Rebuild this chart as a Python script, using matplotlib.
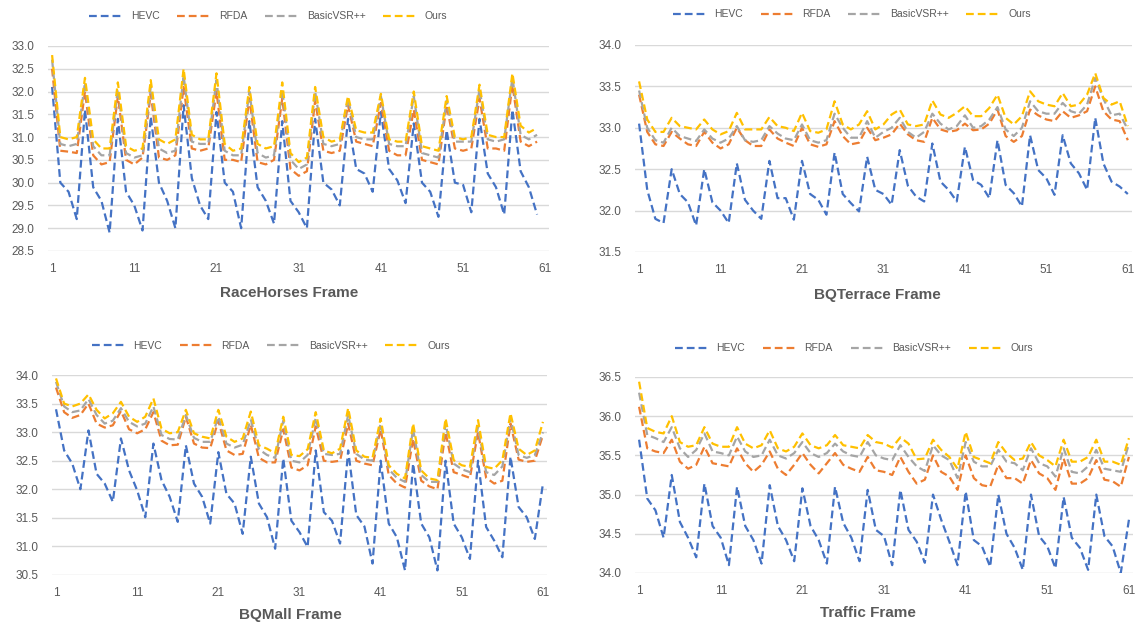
import matplotlib.pyplot as plt

plt.rcParams['font.family'] = ['Liberation Sans', 'DejaVu Sans']

series = ["HEVC", "RFDA", "BasicVSR++", "Ours"]
colors = ["#4472C4", "#ED7D31", "#A5A5A5", "#FFC000"]
xticks = [1, 11, 21, 31, 41, 51, 61]

# RaceHorses (60 frames)
rh_hevc = [32.1, 30.0, 29.8, 29.2, 31.6, 29.9, 29.6, 28.9, 31.4, 29.8, 29.5, 28.95,
           31.45, 30.0, 29.6, 29.0, 31.7, 30.1, 29.5, 29.2, 31.55, 30.0, 29.8, 29.0,
           31.35, 29.9, 29.6, 29.1, 31.35, 29.6, 29.35, 29.0, 31.4, 30.0, 29.85, 29.5,
           31.4, 30.3, 30.2, 29.8, 31.55, 30.3, 30.05, 29.55, 31.3, 30.0, 29.8, 29.25,
           31.15, 30.0, 29.95, 29.35, 31.4, 30.2, 29.9, 29.3, 31.6, 30.25, 29.9, 29.3]
rh_rfda = [32.5, 30.7, 30.68, 30.65, 32.0, 30.6, 30.4, 30.45, 31.9, 30.5, 30.4, 30.55,
           31.95, 30.55, 30.5, 30.6, 32.1, 30.75, 30.7, 30.75, 32.0, 30.5, 30.5, 30.45,
           31.85, 30.45, 30.4, 30.5, 31.85, 30.3, 30.15, 30.25, 31.8, 30.7, 30.65, 30.7,
           31.7, 30.9, 30.85, 30.8, 31.75, 30.7, 30.6, 30.6, 31.6, 30.5, 30.45, 30.4,
           31.7, 30.75, 30.7, 30.75, 31.85, 30.75, 30.75, 30.7, 32.15, 30.9, 30.8, 30.9]
rh_basic = [32.7, 30.85, 30.8, 30.85, 32.2, 30.8, 30.6, 30.6, 32.05, 30.65, 30.55, 30.6,
            32.1, 30.75, 30.65, 30.7, 32.35, 30.9, 30.85, 30.85, 32.25, 30.7, 30.6, 30.6,
            32.0, 30.65, 30.55, 30.6, 32.05, 30.5, 30.3, 30.4, 32.0, 30.85, 30.8, 30.85,
            31.85, 31.0, 30.95, 30.95, 31.9, 30.85, 30.8, 30.8, 31.9, 30.65, 30.6, 30.55,
            31.8, 30.9, 30.9, 30.9, 32.05, 30.95, 30.9, 30.95, 32.3, 31.05, 30.95, 31.05]
rh_ours = [32.8, 31.0, 30.95, 31.0, 32.3, 30.95, 30.75, 30.75, 32.2, 30.8, 30.7, 30.75,
           32.25, 30.95, 30.85, 30.95, 32.5, 31.05, 30.95, 30.95, 32.4, 30.85, 30.7, 30.75,
           32.1, 30.85, 30.75, 30.8, 32.2, 30.65, 30.45, 30.55, 32.1, 31.0, 30.9, 30.95,
           31.9, 31.15, 31.1, 31.1, 31.95, 30.95, 30.9, 30.9, 32.0, 30.8, 30.75, 30.7,
           31.9, 31.0, 30.95, 31.0, 32.15, 31.05, 31.0, 31.0, 32.4, 31.25, 31.1, 31.2]

# BQTerrace
bt_hevc = [33.05, 32.25, 31.9, 31.85, 32.5, 32.2, 32.1, 31.82, 32.5, 32.1, 32.0, 31.85,
           32.57, 32.13, 32.0, 31.9, 32.6, 32.15, 32.15, 31.89, 32.6, 32.2, 32.13, 31.95,
           32.7, 32.2, 32.09, 31.99, 32.65, 32.25, 32.2, 32.07, 32.73, 32.3, 32.17, 32.11,
           32.81, 32.35, 32.25, 32.11, 32.77, 32.37, 32.31, 32.15, 32.85, 32.31, 32.21, 32.05,
           32.91, 32.49, 32.39, 32.19, 32.91, 32.57, 32.45, 32.25, 33.12, 32.57, 32.35, 32.29,
           32.2]
bt_rfda = [33.4, 32.95, 32.8, 32.78, 32.95, 32.87, 32.8, 32.78, 32.95, 32.82, 32.75, 32.8,
           33.0, 32.85, 32.78, 32.78, 32.98, 32.87, 32.82, 32.78, 33.0, 32.8, 32.77, 32.8,
           33.08, 32.9, 32.8, 32.82, 33.0, 32.85, 32.88, 32.92, 33.05, 32.92, 32.85, 32.83,
           33.12, 32.98, 32.95, 32.97, 33.05, 32.97, 32.98, 33.05, 33.22, 32.9, 32.83, 32.9,
           33.22, 33.15, 33.1, 33.08, 33.2, 33.12, 33.15, 33.2, 33.5, 33.2, 33.1, 33.08,
           32.85]
bt_basic = [33.45, 33.0, 32.85, 32.82, 33.0, 32.9, 32.87, 32.84, 32.98, 32.87, 32.82, 32.87,
            33.02, 32.85, 32.83, 32.85, 33.02, 32.93, 32.87, 32.85, 33.04, 32.85, 32.82, 32.85,
            33.17, 33.0, 32.88, 32.88, 33.08, 32.88, 32.95, 33.0, 33.12, 32.95, 32.88, 32.95,
            33.17, 33.05, 32.98, 33.02, 33.15, 33.0, 33.02, 33.1, 33.25, 32.98, 32.9, 33.0,
            33.32, 33.2, 33.17, 33.17, 33.3, 33.2, 33.17, 33.28, 33.6, 33.35, 33.15, 33.17,
            32.98]
bt_ours = [33.56, 33.1, 32.95, 32.95, 33.12, 33.02, 33.0, 32.98, 33.1, 32.98, 32.92, 32.96,
           33.18, 32.98, 32.98, 32.98, 33.13, 33.02, 33.0, 32.96, 33.18, 32.96, 32.94, 32.98,
           33.32, 33.04, 32.98, 33.04, 33.2, 32.98, 33.04, 33.16, 33.22, 33.04, 33.02, 33.04,
           33.33, 33.16, 33.12, 33.18, 33.26, 33.14, 33.14, 33.24, 33.4, 33.12, 33.04, 33.14,
           33.44, 33.32, 33.28, 33.26, 33.42, 33.26, 33.28, 33.4, 33.66, 33.36, 33.28, 33.32,
           33.02]

# BQMall
bm_hevc = [33.4, 32.68, 32.45, 32.0, 33.03, 32.27, 32.1, 31.78, 32.89, 32.33, 31.98, 31.51,
           32.8, 32.16, 31.87, 31.43, 32.77, 32.1, 31.87, 31.4, 32.65, 31.92, 31.75, 31.22,
           32.57, 31.75, 31.51, 30.96, 32.54, 31.45, 31.25, 30.99, 32.68, 31.6, 31.45, 31.05,
           32.68, 31.55, 31.35, 30.7, 32.5, 31.4, 31.16, 30.58, 32.45, 31.4, 31.16, 30.58,
           32.5, 31.4, 31.16, 30.78, 32.5, 31.34, 31.1, 30.81, 32.57, 31.69, 31.51, 31.13,
           32.1]
bm_rfda = [33.78, 33.35, 33.25, 33.3, 33.5, 33.15, 33.08, 33.12, 33.37, 33.05, 32.98, 33.05,
           33.35, 32.85, 32.77, 32.78, 33.27, 32.8, 32.73, 32.72, 33.2, 32.68, 32.6, 32.62,
           33.13, 32.55, 32.47, 32.47, 33.05, 32.38, 32.33, 32.42, 33.1, 32.5, 32.48, 32.5,
           33.15, 32.5, 32.45, 32.42, 33.05, 32.25, 32.1, 32.03, 32.88, 32.15, 32.05, 32.0,
           33.0, 32.3, 32.25, 32.2, 33.0, 32.2, 32.1, 32.15, 33.15, 32.52, 32.48, 32.5,
           32.95]
bm_basic = [33.88, 33.45, 33.35, 33.38, 33.58, 33.3, 33.15, 33.2, 33.42, 33.18, 33.1, 33.15,
            33.45, 32.95, 32.88, 32.87, 33.3, 32.9, 32.83, 32.83, 33.27, 32.8, 32.73, 32.78,
            33.22, 32.7, 32.6, 32.55, 33.2, 32.5, 32.47, 32.6, 33.25, 32.62, 32.6, 32.62,
            33.3, 32.62, 32.52, 32.5, 33.15, 32.35, 32.2, 32.13, 33.05, 32.25, 32.13, 32.13,
            33.15, 32.45, 32.35, 32.3, 33.1, 32.3, 32.25, 32.4, 33.25, 32.6, 32.55, 32.6,
            33.0]
bm_ours = [33.94, 33.5, 33.45, 33.5, 33.66, 33.39, 33.24, 33.33, 33.53, 33.27, 33.18, 33.27,
           33.59, 33.06, 32.98, 33.0, 33.39, 32.98, 32.92, 32.89, 33.39, 32.92, 32.83, 32.89,
           33.36, 32.77, 32.71, 32.63, 33.27, 32.6, 32.58, 32.7, 33.35, 32.68, 32.63, 32.71,
           33.42, 32.68, 32.57, 32.55, 33.24, 32.42, 32.27, 32.19, 33.15, 32.33, 32.19, 32.16,
           33.24, 32.51, 32.42, 32.39, 33.21, 32.39, 32.36, 32.51, 33.33, 32.71, 32.6, 32.68,
           33.18]

# Traffic
tr_hevc = [35.7, 34.95, 34.8, 34.45, 35.25, 34.65, 34.45, 34.2, 35.14, 34.6, 34.45, 34.1,
           35.1, 34.6, 34.42, 34.12, 35.12, 34.6, 34.42, 34.15, 35.08, 34.6, 34.42, 34.12,
           35.1, 34.64, 34.45, 34.15, 35.06, 34.55, 34.47, 34.1, 35.06, 34.55, 34.4, 34.13,
           35.0, 34.68, 34.4, 34.1, 35.04, 34.42, 34.34, 34.08, 35.0, 34.5, 34.32, 34.04,
           35.0, 34.47, 34.34, 34.06, 34.97, 34.45, 34.32, 34.04, 35.0, 34.47, 34.34, 34.0,
           34.68]
tr_rfda = [36.12, 35.59, 35.55, 35.53, 35.7, 35.42, 35.33, 35.38, 35.61, 35.4, 35.38, 35.36,
           35.59, 35.4, 35.29, 35.38, 35.55, 35.33, 35.25, 35.38, 35.53, 35.38, 35.27, 35.4,
           35.53, 35.38, 35.33, 35.29, 35.48, 35.31, 35.29, 35.25, 35.48, 35.29, 35.14, 35.19,
           35.5, 35.29, 35.23, 35.06, 35.5, 35.21, 35.12, 35.1, 35.38, 35.21, 35.21, 35.14,
           35.44, 35.27, 35.21, 35.06, 35.46, 35.14, 35.14, 35.21, 35.44, 35.19, 35.17, 35.1,
           35.48]
tr_basic = [36.3, 35.76, 35.72, 35.67, 35.86, 35.59, 35.48, 35.57, 35.78, 35.55, 35.53, 35.5,
            35.74, 35.55, 35.48, 35.5, 35.7, 35.5, 35.46, 35.53, 35.67, 35.53, 35.48, 35.53,
            35.65, 35.55, 35.5, 35.48, 35.67, 35.5, 35.46, 35.44, 35.63, 35.48, 35.36, 35.3,
            35.63, 35.5, 35.44, 35.21, 35.67, 35.42, 35.36, 35.36, 35.57, 35.42, 35.4, 35.31,
            35.59, 35.4, 35.36, 35.23, 35.59, 35.29, 35.27, 35.36, 35.57, 35.33, 35.31, 35.29,
            35.65]
tr_ours = [36.44, 35.85, 35.8, 35.78, 36.0, 35.67, 35.61, 35.63, 35.86, 35.65, 35.61, 35.61,
           35.86, 35.65, 35.59, 35.63, 35.82, 35.59, 35.55, 35.61, 35.78, 35.63, 35.59, 35.63,
           35.76, 35.63, 35.61, 35.59, 35.76, 35.67, 35.65, 35.6, 35.73, 35.65, 35.45, 35.46,
           35.7, 35.57, 35.48, 35.33, 35.8, 35.48, 35.44, 35.4, 35.67, 35.53, 35.44, 35.46,
           35.67, 35.5, 35.44, 35.36, 35.7, 35.42, 35.42, 35.48, 35.7, 35.42, 35.42, 35.38,
           35.72]

panels = [
    ([0.0422, 0.5965, 0.441, 0.3296], [rh_hevc, rh_rfda, rh_basic, rh_ours], (28.5, 33.0),
     "RaceHorses Frame", (0.254, 0.529), (0.236, 0.974)),
    ([0.5585, 0.5949, 0.437, 0.3328], [bt_hevc, bt_rfda, bt_basic, bt_ours], (31.5, 34.0),
     "BQTerrace Frame", (0.772, 0.526), (0.749, 0.977)),
    ([0.0457, 0.0756, 0.4354, 0.3215], [bm_hevc, bm_rfda, bm_basic, bm_ours], (30.5, 34.0),
     "BQMall Frame", (0.255, 0.012), (0.238, 0.444)),
    ([0.5585, 0.0788, 0.438, 0.3151], [tr_hevc, tr_rfda, tr_basic, tr_ours], (34.0, 36.5),
     "Traffic Frame", (0.763, 0.015), (0.751, 0.440)),
]

fig = plt.figure(figsize=(11.37, 6.22), dpi=100)
for rect, data, ylim, title, tpos, lpos in panels:
    ax = fig.add_axes(rect)
    lines = []
    for name, vals, c in zip(series, data, colors):
        x = list(range(1, len(vals) + 1))
        ln, = ax.plot(x, vals, color=c, lw=1.6, linestyle=(0, (3.5, 1.8)), label=name)
        lines.append(ln)
    ax.set_xlim(0.5, 61.5)
    ax.set_ylim(*ylim)
    yt = [ylim[0] + 0.5 * i for i in range(int(round((ylim[1] - ylim[0]) / 0.5)) + 1)]
    ax.set_yticks(yt)
    ax.set_yticklabels([f"{v:.1f}" for v in yt])
    ax.set_xticks(xticks)
    ax.grid(axis='y', color='#d9d9d9', lw=1)
    ax.set_axisbelow(True)
    for s in ax.spines.values():
        s.set_visible(False)
    ax.tick_params(length=0, labelsize=8.5, labelcolor='#595959')
    ax.tick_params(axis='x', pad=9)
    ax.tick_params(axis='y', pad=10)
    fig.text(tpos[0], tpos[1], title, ha='center', va='center', fontsize=11,
             fontweight='bold', color='#595959')
    fig.legend(handles=lines, loc='center', bbox_to_anchor=lpos, ncol=4, frameon=False,
               fontsize=7.5, labelcolor='#595959', handlelength=3.2, handletextpad=0.8,
               columnspacing=1.7)

fig.savefig("out.png", dpi=100)
